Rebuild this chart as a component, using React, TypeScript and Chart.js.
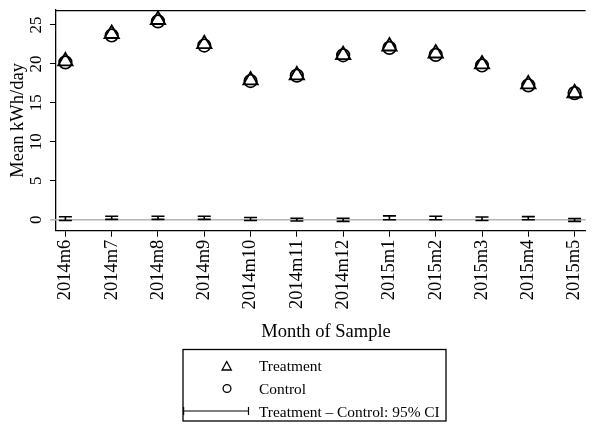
import { useEffect, useRef } from 'react';
import { Chart, registerables } from 'chart.js';

Chart.register(...registerables);

const months = ['2014m6', '2014m7', '2014m8', '2014m9', '2014m10', '2014m11', '2014m12', '2015m1', '2015m2', '2015m3', '2015m4', '2015m5'];
const treatment = [20.35, 23.85, 25.65, 22.55, 17.9, 18.55, 21.15, 22.25, 21.35, 19.95, 17.4, 16.25];
const control = [20.2, 23.65, 25.45, 22.35, 17.8, 18.5, 21.1, 22.05, 21.15, 19.8, 17.25, 16.25];
const ciLow = [-0.1, 0.05, 0.05, 0.05, -0.1, -0.15, -0.2, 0.0, 0.0, -0.1, 0.0, -0.2];
const ciHigh = [0.38, 0.45, 0.45, 0.45, 0.3, 0.2, 0.2, 0.5, 0.45, 0.35, 0.4, 0.17];
const yTicks = [0, 5, 10, 15, 20, 25];
const legendLabels = ['Treatment', 'Control', 'Treatment – Control: 95% CI'];

const SERIF = '"Liberation Serif", "Times New Roman", serif';

const overlay = {
  id: 'overlay',
  beforeDatasetsDraw(chart: any) {
    const { ctx, chartArea, scales } = chart;
    const y0 = scales.y.getPixelForValue(0);
    ctx.save();
    ctx.strokeStyle = '#b4b4b4';
    ctx.lineWidth = 1.6;
    ctx.beginPath();
    ctx.moveTo(chartArea.left - 6, y0);
    ctx.lineTo(chartArea.right, y0);
    ctx.stroke();
    ctx.strokeStyle = '#000';
    ctx.lineWidth = 1.3;
    ctx.beginPath();
    ctx.moveTo(chartArea.left, chartArea.top + 0.5);
    ctx.lineTo(chartArea.right, chartArea.top + 0.5);
    ctx.stroke();
    ctx.restore();
  },
  afterDatasetsDraw(chart: any) {
    const { ctx, scales } = chart;
    ctx.save();
    ctx.strokeStyle = '#000';
    ctx.lineWidth = 1.6;
    months.forEach((_, i) => {
      const x = scales.x.getPixelForValue(i);
      const yl = scales.y.getPixelForValue(ciLow[i]);
      const yh = scales.y.getPixelForValue(ciHigh[i]);
      ctx.beginPath();
      ctx.moveTo(x, yl);
      ctx.lineTo(x, yh);
      ctx.moveTo(x - 6.5, yl);
      ctx.lineTo(x + 6.5, yl);
      ctx.moveTo(x - 6.5, yh);
      ctx.lineTo(x + 6.5, yh);
      ctx.stroke();
    });
    ctx.restore();
  },
  afterDraw(chart: any) {
    const { ctx, scales, chartArea } = chart;
    ctx.save();
    ctx.fillStyle = '#000';
    ctx.font = `17px ${SERIF}`;
    ctx.textAlign = 'center';
    ctx.textBaseline = 'alphabetic';
    yTicks.forEach((v) => {
      const py = scales.y.getPixelForValue(v);
      ctx.save();
      ctx.translate(40.5, py);
      ctx.rotate(-Math.PI / 2);
      ctx.fillText(String(v), 0, 0);
      ctx.restore();
    });
    ctx.font = `18.5px ${SERIF}`;
    ctx.save();
    ctx.translate(22.7, (chartArea.top + chartArea.bottom) / 2);
    ctx.rotate(-Math.PI / 2);
    ctx.fillText('Mean kWh/day', 0, 0);
    ctx.restore();
    ctx.fillText('Month of Sample', 326, 337);

    ctx.strokeStyle = '#000';
    ctx.lineWidth = 1.3;
    ctx.strokeRect(183, 349.5, 263, 71.5);
    ctx.beginPath();
    ctx.moveTo(226.7, 361.5);
    ctx.lineTo(231.3, 370);
    ctx.lineTo(222.1, 370);
    ctx.closePath();
    ctx.stroke();
    ctx.beginPath();
    ctx.arc(227, 388.5, 3.9, 0, Math.PI * 2);
    ctx.stroke();
    ctx.lineWidth = 1.2;
    ctx.beginPath();
    ctx.moveTo(183, 411);
    ctx.lineTo(249, 411);
    ctx.moveTo(183.6, 407);
    ctx.lineTo(183.6, 415);
    ctx.moveTo(248.5, 407);
    ctx.lineTo(248.5, 415);
    ctx.stroke();
    ctx.font = `15.4px ${SERIF}`;
    ctx.textAlign = 'left';
    ctx.fillText(legendLabels[0], 259, 371);
    ctx.fillText(legendLabels[1], 259, 394.3);
    ctx.fillText(legendLabels[2], 259, 417);
    ctx.restore();
  },
};

export default function App() {
  const ref = useRef<HTMLCanvasElement | null>(null);
  useEffect(() => {
    if (!ref.current) return;
    const chart = new Chart(ref.current, {
      type: 'scatter',
      data: {
        datasets: [
          {
            label: 'Control',
            data: months.map((_, i) => ({ x: i, y: control[i] })),
            pointStyle: 'circle',
            pointRadius: 6.3,
            borderColor: '#000',
            backgroundColor: 'rgba(0,0,0,0)',
            borderWidth: 1.7,
          },
          {
            label: 'Treatment',
            data: months.map((_, i) => ({ x: i, y: treatment[i] })),
            pointStyle: 'triangle',
            pointRadius: 8.3,
            borderColor: '#000',
            backgroundColor: 'rgba(0,0,0,0)',
            borderWidth: 1.8,
          },
        ],
      },
      options: {
        responsive: false,
        animation: false,
        devicePixelRatio: 1,
        layout: { padding: { left: 0, top: 7, right: 3, bottom: 0 } },
        plugins: { legend: { display: false }, tooltip: { enabled: false } },
        scales: {
          x: {
            type: 'linear',
            min: -0.203,
            max: 11.24,
            afterBuildTicks: (s: any) => {
              s.ticks = months.map((_, i) => ({ value: i }));
            },
            afterFit: (s: any) => {
              s.height = 194.3;
            },
            grid: { drawOnChartArea: false, drawTicks: true, tickLength: 6, color: '#000', lineWidth: 1 },
            border: { color: '#000', width: 1.3 },
            ticks: {
              autoSkip: false,
              minRotation: 90,
              maxRotation: 90,
              padding: 3,
              color: '#000',
              font: { family: SERIF, size: 18.5 },
              callback: (v: any) => months[Math.round(Number(v))] ?? '',
            },
          },
          y: {
            type: 'linear',
            min: -1.4,
            max: 26.9,
            afterBuildTicks: (s: any) => {
              s.ticks = yTicks.map((v) => ({ value: v }));
            },
            afterFit: (s: any) => {
              s.width = 56;
            },
            grid: { drawOnChartArea: false, drawTicks: true, tickLength: 6, color: '#000', lineWidth: 1 },
            border: { color: '#000', width: 1.3 },
            ticks: { display: false },
          },
        },
      },
      plugins: [overlay],
    });
    return () => chart.destroy();
  }, []);
  return (
    <div style={{ position: 'fixed', left: 0, top: 0, width: 595, height: 425, overflow: 'hidden', background: '#fff' }}>
      <canvas ref={ref} width={600} height={425} style={{ display: 'block', width: 600, height: 425 }} />
    </div>
  );
}
